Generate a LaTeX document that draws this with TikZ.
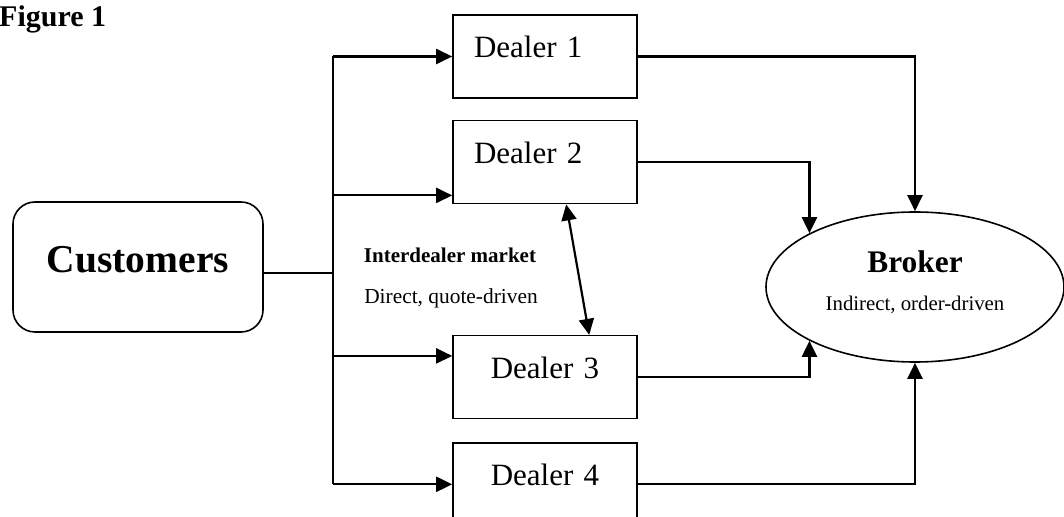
\documentclass[tikz,border=0pt]{standalone}
\usepackage{fontspec}
\setmainfont{Liberation Serif}
\usetikzlibrary{positioning,shapes,arrows.meta}
\tikzstyle{dealer}=[rectangle, draw=black, line width=1.6pt, minimum width=184pt, minimum height=83pt,
        inner xsep=21pt, text width=142pt, text height=21pt, text depth=18pt,
        font=\fontsize{31}{37}\selectfont]
\tikzstyle{client}=[rectangle, draw=black, line width=1.6pt, rounded corners=22pt, minimum width=250pt,
        minimum height=130pt, text height=27pt, text depth=15pt, font=\fontsize{39.5}{47}\selectfont\bfseries]
\tikzstyle{broker}=[ellipse, draw=black, line width=1.6pt, minimum width=298pt, minimum height=150pt, inner sep=0pt]
\tikzstyle{flow}=[line width=2.2pt, -{Triangle[length=16pt,width=15pt]}]
\tikzstyle{link}=[line width=2.2pt]

\begin{document}
\begin{tikzpicture}[x=1pt, y=1pt]
    \useasboundingbox (0,0) rectangle (1064,516);

    \node (Caption) [anchor=base west, inner sep=0pt, font=\fontsize{30}{36}\selectfont\bfseries] at (-1,489) {Figure 1};

    \node (Customers) [client] at (138,249) {Customers};

    \node (Dealer1) [dealer, align=left] at (545,459.5) {Dealer 1};
    \node (Dealer2) [dealer, align=left, below=21pt of Dealer1] {Dealer 2};
    \node (Dealer3) [dealer, align=center, below=130.5pt of Dealer2] {Dealer 3};
    \node (Dealer4) [dealer, align=center, below=22.5pt of Dealer3] {Dealer 4};

    \node (Broker) [broker] at (915,229) {};
    \node (BrokerName) [anchor=base, inner sep=0pt, font=\fontsize{31.4}{38}\selectfont\bfseries]
        at ([yshift=14pt]Broker.center) {Broker};
    \node (BrokerKind) [anchor=base, inner sep=0pt, font=\fontsize{20.8}{25}\selectfont]
        at ([yshift=-24pt]Broker.center) {Indirect, order-driven};

    \node (Market) [anchor=base, inner sep=0pt, font=\fontsize{21}{25}\selectfont\bfseries] at (450,253) {Interdealer market};
    \node (MarketKind) [anchor=base, inner sep=0pt, font=\fontsize{21.4}{25}\selectfont] at (451,212) {Direct, quote-driven};

    % customers to the dealers
    \coordinate (Split) at (333,243);
    \draw[link] ([yshift=-6pt]Customers.east) -- (Split);
    \draw[link] (Split |- Dealer1.west) -- (Split |- Dealer4.west);
    \draw[flow] (Split |- Dealer1.west) -- (Dealer1.west);
    \draw[flow] (Split |- Dealer2.south west) ++(0,9) -- ([yshift=9pt]Dealer2.south west);
    \draw[flow] (Split |- Dealer3.north west) ++(0,-21) -- ([yshift=-21pt]Dealer3.north west);
    \draw[flow] (Split |- Dealer4.west) -- (Dealer4.west);

    % interdealer market
    \draw[line width=2.2pt, {Triangle[length=16pt,width=15pt]}-{Triangle[length=16pt,width=15pt]}]
        ([xshift=114pt]Dealer2.south west) -- ([xshift=137pt]Dealer3.north west);

    % dealers to the broker
    \draw[flow] (Dealer1.east) -| (Broker.north);
    \draw[flow] (Dealer2.east) -| (Broker.153);
    \draw[flow] (Dealer3.east) -| (Broker.207);
    \draw[flow] (Dealer4.east) -| (Broker.south);

\end{tikzpicture}
\end{document}
